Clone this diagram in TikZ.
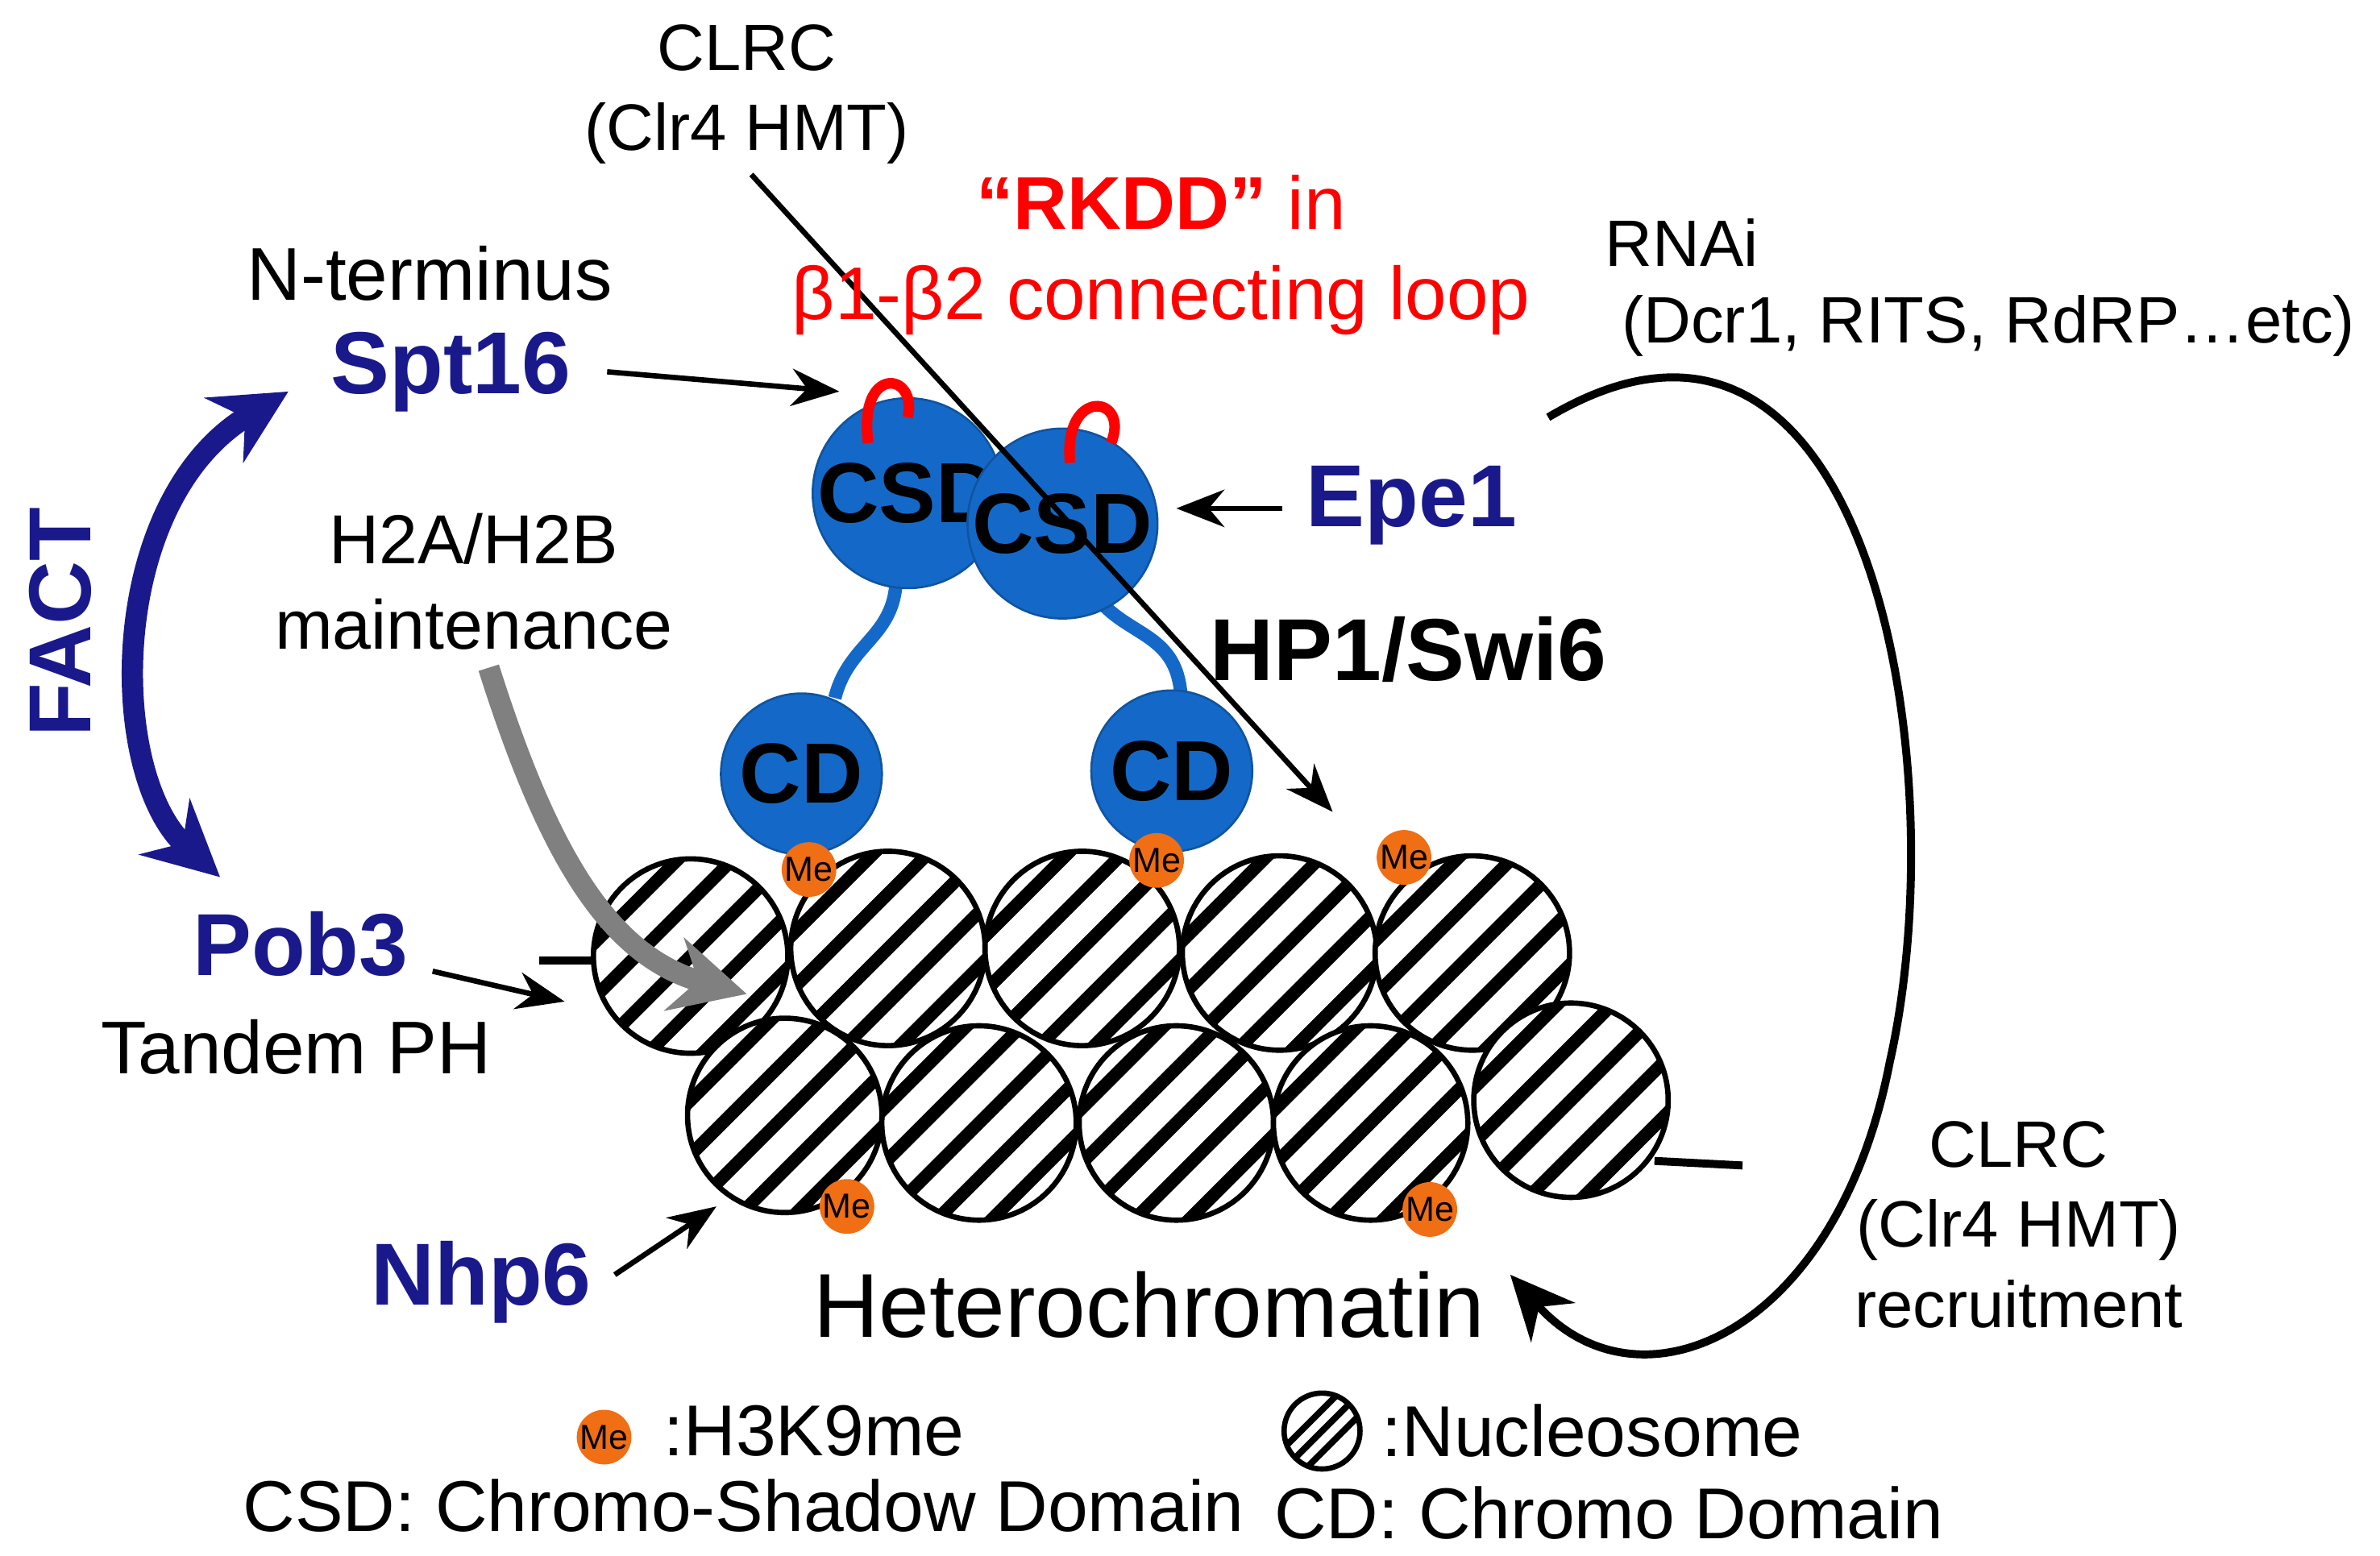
\documentclass[tikz,border=0pt]{standalone}
\usepackage{fontspec}
\setmainfont{Liberation Sans}
\usetikzlibrary{arrows.meta}
\definecolor{hpblue}{RGB}{20,105,200}
\definecolor{dblue}{RGB}{25,25,140}
\definecolor{meor}{RGB}{240,110,20}
\begin{document}
\begin{tikzpicture}[x=0.01cm,y=-0.01cm,
  txt/.style={font=\fontsize{12.3pt}{15pt}\selectfont, align=center},
  big/.style={font=\fontsize{16.5pt}{18pt}\selectfont\bfseries, text=dblue},
  redtxt/.style={font=\fontsize{14pt}{17pt}\selectfont, text=red, align=center},
  nuc/.style={circle, draw, line width=1pt, fill=white, minimum size=1.28cm, inner sep=0,
    path picture={\foreach \k in {-2,...,2}{\draw[line width=2.4pt] ([shift={(\k*36-100,100)}]path picture bounding box.center) -- ++(200,-200);}}},
  me/.style={circle, fill=meor, minimum size=0.36cm, inner sep=0, font=\fontsize{6.5pt}{7pt}\selectfont},
  dom/.style={circle, fill=hpblue, draw=hpblue!80!black, minimum size=1.06cm, inner sep=0, font=\fontsize{16pt}{18pt}\selectfont\bfseries},
  arr/.style={-{Stealth[length=9pt,width=7pt]}, line width=1pt}]
\path[use as bounding box] (0,0) rectangle (1568,1025);
% linker lines
\coordinate (l1) at (355,633); \coordinate (l2) at (392,633);
\coordinate (l3) at (1090,765); \coordinate (l4) at (1148,768);
\draw[line width=1.5pt] (l1) -- (l2);
\draw[line width=1.5pt] (l3) -- (l4);
% nucleosomes
\foreach \n/\x/\y in {t1/455/630,t2/585/625,t3/713/625,t4/843/628,t5/970/628}{\node[nuc] (\n) at (\x,\y) {};}
\foreach \n/\x/\y in {b1/517/735,b2/645/740,b3/775/740,b4/903/740,b5/1035/725}{\node[nuc] (\n) at (\x,\y) {};}
% HP1
\draw[hpblue, line width=2.5pt] (590,370) .. controls (595,420) and (560,420) .. (550,460);
\draw[hpblue, line width=2.5pt] (720,390) .. controls (740,420) and (775,415) .. (778,458);
\node[dom] (cd1) at (528,510) {CD};
\node[dom] (cd2) at (772,508) {CD};
\node[dom] (csd1) at (598,325) {CSD};
\node[dom] (csd2) at (700,345) {CSD};
\draw[red, line width=2pt] (572,292) .. controls (565,240) and (605,245) .. (598,275);
\draw[red, line width=2pt] (705,305) .. controls (700,255) and (745,260) .. (732,292);
% Me
\foreach \n/\x/\y in {m1/533/573,m2/762/567,m3/925/565,m4/558/795,m5/942/797}{\node[me] (\n) at (\x,\y) {Me};}
% texts
\node[txt] (clrc) at (492,62) {CLRC\\(Clr4 HMT)};
\coordinate (clrcS) at (495,115); \coordinate (clrcE) at (878,535);
\draw[arr] (clrcS) -- (clrcE);
\node[redtxt] (rkdd) at (765,168) {\textbf{“RKDD”} in\\β1-β2 connecting loop};
\node[font=\fontsize{14pt}{16pt}\selectfont] (nterm) at (283,180) {N-terminus};
\node[big] (spt) at (297,245) {Spt16};
\coordinate (sptE) at (553,258);
\draw[arr] (400,245) -- (sptE);
\node[txt] (rnai) at (1108,160) {RNAi};
\node[txt] (rnai2) at (1310,215) {(Dcr1, RITS, RdRP…etc)};
\node[big] (epe) at (930,333) {Epe1};
\draw[arr] (845,335) -- (775,335);
\node[font=\fontsize{16.5pt}{18pt}\selectfont\bfseries] (hp1) at (928,428) {HP1/Swi6};
\node[big, rotate=90] (fact) at (40,410) {FACT};
\node[txt, font=\fontsize{13pt}{16pt}\selectfont] (h2a) at (312,383) {H2A/H2B\\maintenance};
\node[big] (pob) at (198,622) {Pob3};
\node[font=\fontsize{14pt}{16pt}\selectfont] (tph) at (195,690) {Tandem PH};
\draw[arr] (285,640) -- (372,660);
\node[big] (nhp) at (317,845) {Nhp6};
\draw[arr] (405,840) -- (472,795);
\node[font=\fontsize{17pt}{19pt}\selectfont] (het) at (757,860) {Heterochromatin};
\node[txt] (clrc2) at (1330,807) {CLRC\\(Clr4 HMT)\\recruitment};
% FACT arrow
\draw[dblue, line width=4pt, {Stealth[length=14pt,width=14pt]}-{Stealth[length=14pt,width=14pt]}] (190,258) .. controls (70,330) and (70,510) .. (145,578);
% gray arrow
\draw[gray, line width=4pt, -{Stealth[length=14pt,width=14pt]}] (322,440) .. controls (360,560) and (400,630) .. (492,655);
% RNAi curve
\draw[line width=1.5pt, -{Stealth[length=12pt,width=11pt]}] (1020,275) .. controls (1230,150) and (1290,500) .. (1245,700) .. controls (1210,880) and (1080,935) .. (995,840);
% legend
\node[me] (lme) at (398,947) {Me};
\node[font=\fontsize{13.5pt}{15pt}\selectfont, anchor=west] (lme2) at (425,943) {:H3K9me};
\node[font=\fontsize{13.5pt}{15pt}\selectfont] (lcsd) at (490,992) {CSD: Chromo-Shadow Domain};
\node[circle, draw, line width=1pt, minimum size=0.5cm, inner sep=0,
  path picture={\foreach \k in {-1,0,1}{\draw[line width=1.2pt] ([shift={(\k*14-40,40)}]path picture bounding box.center) -- ++(80,-80);}}] (lnuc) at (871,943) {};
\node[font=\fontsize{13.5pt}{15pt}\selectfont, anchor=west] (lnuc2) at (898,943) {:Nucleosome};
\node[font=\fontsize{13.5pt}{15pt}\selectfont] (lcd) at (1060,997) {CD: Chromo Domain};
\end{tikzpicture}
\end{document}
